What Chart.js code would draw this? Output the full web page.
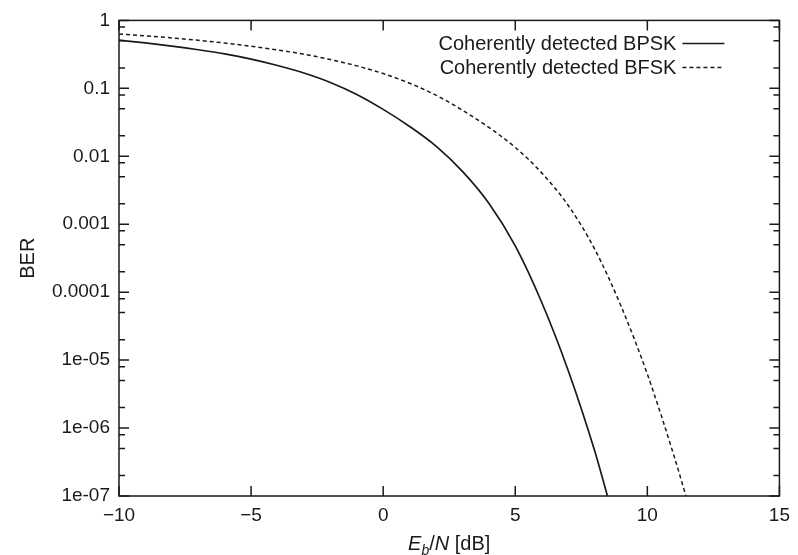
<!DOCTYPE html>
<html>
<head>
<meta charset="utf-8">
<script src="https://cdn.jsdelivr.net/npm/chart.js@4.4.0/dist/chart.umd.min.js"></script>
<style>
  body { margin: 0; background: #fff; }
  canvas { display: block; }
</style>
</head>
<body>
<canvas id="berChart" width="798" height="555"></canvas>
<script>
// values (Eb/N in dB, BER)
const ebnoBpsk = [-10, -9, -8, -7, -6, -5, -4, -3, -2, -1, 0, 1, 2, 3, 4, 5, 6, 7, 8, 8.49];
const berBpsk  = [0.512, 0.467, 0.419, 0.370, 0.321, 0.269, 0.217, 0.168, 0.122, 0.0813,
                  0.049, 0.0275, 0.0141, 6.0e-3, 2.04e-3, 4.8e-4, 7.1e-5, 7.1e-6, 4.7e-7, 1e-7];

const ebnoBfsk = [-10, -9, -8, -7, -6, -5, -4, -3, -2, -1, 0, 1, 2, 3, 4, 5, 6, 7, 8, 9, 10, 11, 11.46];
const berBfsk  = [0.63, 0.592, 0.552, 0.509, 0.464, 0.416, 0.367, 0.318, 0.265, 0.214,
                  0.165, 0.119, 0.0793, 0.0476, 0.0266, 0.0135, 5.7e-3, 1.9e-3, 4.35e-4,
                  6.3e-5, 6.2e-6, 4.0e-7, 1e-7];

const seriesLabels = ['Coherently detected BPSK', 'Coherently detected BFSK'];

const xTickValues = [-10, -5, 0, 5, 10, 15];
const xTickLabels = ['\u221210', '\u22125', '0', '5', '10', '15'];
const yTickValues = [1e-7, 1e-6, 1e-5, 1e-4, 1e-3, 0.01, 0.1, 1];
const yTickLabels = ['1e-07', '1e-06', '1e-05', '0.0001', '0.001', '0.01', '0.1', '1'];
const minorMultiples = [2, 5, 8];

const FONT = '"Liberation Sans", Arial, Helvetica, sans-serif';
const INK = '#1a1a1a';

function toPoints(xs, ys) {
  return xs.map((x, i) => ({ x: x, y: ys[i] }));
}

// frame + inward tick marks on all four sides
const frameTicks = {
  id: 'frameTicks',
  afterDraw(chart) {
    const ctx = chart.ctx;
    const a = chart.chartArea;
    const xs = chart.scales.x, ys = chart.scales.y;
    ctx.save();
    ctx.strokeStyle = INK;
    ctx.lineWidth = 1.5;
    ctx.strokeRect(a.left, a.top, a.right - a.left, a.bottom - a.top);

    ctx.beginPath();
    xTickValues.forEach(v => {
      const px = xs.getPixelForValue(v);
      ctx.moveTo(px, a.bottom); ctx.lineTo(px, a.bottom - 10);
      ctx.moveTo(px, a.top); ctx.lineTo(px, a.top + 10);
    });
    yTickValues.forEach(v => {
      const py = ys.getPixelForValue(v);
      ctx.moveTo(a.left, py); ctx.lineTo(a.left + 10, py);
      ctx.moveTo(a.right, py); ctx.lineTo(a.right - 10, py);
      if (v < 1) {
        minorMultiples.forEach(m => {
          const my = ys.getPixelForValue(v * m);
          ctx.moveTo(a.left, my); ctx.lineTo(a.left + 6, my);
          ctx.moveTo(a.right, my); ctx.lineTo(a.right - 6, my);
        });
      }
    });
    ctx.stroke();
    ctx.restore();
  }
};

// legend inside the plot, text left of the line sample
const innerLegend = {
  id: 'innerLegend',
  afterDraw(chart) {
    const ctx = chart.ctx;
    const a = chart.chartArea;
    ctx.save();
    ctx.font = '20px ' + FONT;
    ctx.fillStyle = INK;
    ctx.textAlign = 'right';
    ctx.textBaseline = 'middle';
    chart.data.datasets.forEach((ds, i) => {
      const y = a.top + 23 + i * 24;
      ctx.fillText(ds.label, a.right - 103, y + 1);
      ctx.beginPath();
      ctx.strokeStyle = INK;
      ctx.lineWidth = 1.5;
      ctx.setLineDash(ds.borderDash || []);
      ctx.moveTo(a.right - 97, y);
      ctx.lineTo(a.right - 55, y);
      ctx.stroke();
    });
    ctx.restore();
  }
};

// axis titles (x title needs italic + subscript)
const axisTitles = {
  id: 'axisTitles',
  afterDraw(chart) {
    const ctx = chart.ctx;
    const a = chart.chartArea;
    ctx.save();
    ctx.fillStyle = INK;
    ctx.textBaseline = 'alphabetic';

    const parts = [
      { t: 'E', f: 'italic 20px ' + FONT, dy: 0 },
      { t: 'b', f: 'italic 14px ' + FONT, dy: 5 },
      { t: '/', f: '20px ' + FONT, dy: 0 },
      { t: 'N', f: 'italic 20px ' + FONT, dy: 0 },
      { t: ' [dB]', f: '20px ' + FONT, dy: 0 }
    ];
    let total = 0;
    parts.forEach(p => { ctx.font = p.f; p.w = ctx.measureText(p.t).width; total += p.w; });
    let x = (a.left + a.right) / 2 - total / 2;
    const base = a.bottom + 54;
    ctx.textAlign = 'left';
    parts.forEach(p => { ctx.font = p.f; ctx.fillText(p.t, x, base + p.dy); x += p.w; });

    ctx.translate(28, (a.top + a.bottom) / 2);
    ctx.rotate(-Math.PI / 2);
    ctx.font = '20px ' + FONT;
    ctx.textAlign = 'center';
    ctx.textBaseline = 'middle';
    ctx.fillText('BER', 0, 0);
    ctx.restore();
  }
};

const ctx = document.getElementById('berChart').getContext('2d');

new Chart(ctx, {
  type: 'line',
  data: {
    datasets: [
      {
        label: seriesLabels[0],
        data: toPoints(ebnoBpsk, berBpsk),
        borderColor: INK,
        borderWidth: 1.7,
        pointRadius: 0,
        cubicInterpolationMode: 'monotone',
        fill: false
      },
      {
        label: seriesLabels[1],
        data: toPoints(ebnoBfsk, berBfsk),
        borderColor: INK,
        borderWidth: 1.5,
        borderDash: [4, 3],
        pointRadius: 0,
        cubicInterpolationMode: 'monotone',
        fill: false
      }
    ]
  },
  options: {
    responsive: false,
    animation: false,
    layout: { padding: { top: 17, right: 18, left: 0, bottom: 0 } },
    plugins: {
      legend: { display: false },
      tooltip: { enabled: false }
    },
    scales: {
      x: {
        type: 'linear',
        min: -10,
        max: 15,
        afterBuildTicks: scale => { scale.ticks = xTickValues.map(v => ({ value: v })); },
        afterFit: scale => { scale.height = 59; },
        grid: { display: false, drawTicks: false },
        border: { display: false },
        ticks: {
          color: INK,
          padding: 8,
          maxRotation: 0,
          font: { family: FONT, size: 19 },
          callback: value => xTickLabels[xTickValues.indexOf(value)]
        }
      },
      y: {
        type: 'logarithmic',
        min: 1e-7,
        max: 1,
        afterBuildTicks: scale => { scale.ticks = yTickValues.map(v => ({ value: v, major: true })); },
        afterFit: scale => { scale.width = 119; },
        grid: { display: false, drawTicks: false },
        border: { display: false },
        ticks: {
          color: INK,
          padding: 9,
          font: { family: FONT, size: 19 },
          callback: value => {
            const i = yTickValues.findIndex(v => Math.abs(Math.log10(v) - Math.log10(value)) < 1e-6);
            return i >= 0 ? yTickLabels[i] : '';
          }
        }
      }
    }
  },
  plugins: [frameTicks, innerLegend, axisTitles]
});
</script>
</body>
</html>
